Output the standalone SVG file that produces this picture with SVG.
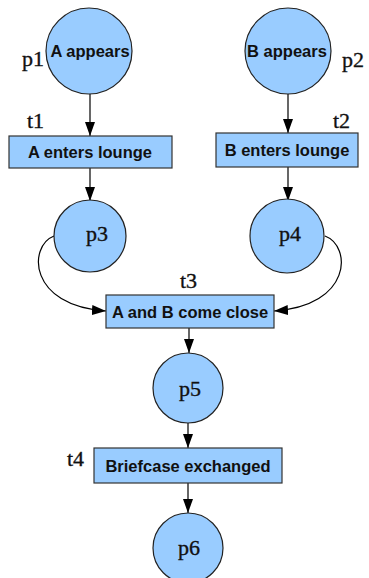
<svg xmlns="http://www.w3.org/2000/svg" width="369" height="578" viewBox="0 0 369 578">
  <style>
    .place { fill: #99ccff; stroke: #222; stroke-width: 1.2; }
    .trans { fill: #99ccff; stroke: #333; stroke-width: 1.2; }
    .lbl { font-family: "Liberation Sans", Arial, sans-serif; font-weight: bold; font-size: 16.5px; fill: #111; text-anchor: middle; }
    .tag { font-family: "Liberation Serif", "Times New Roman", serif; font-size: 22px; fill: #111; stroke: #111; stroke-width: 0.35; }
    .arc { fill: none; stroke: #000; stroke-width: 1.2; }
  </style>
  <defs>
    <marker id="head" markerUnits="userSpaceOnUse" markerWidth="14" markerHeight="10" refX="14" refY="5" orient="auto">
      <path d="M0,0 L14,5 L0,10 z" fill="#000"/>
    </marker>
  </defs>

  <!-- arcs -->
  <g id="connectors">
    <line class="arc" x1="90" y1="94" x2="90" y2="136" marker-end="url(#head)"/>
    <line class="arc" x1="90" y1="168" x2="90" y2="201" marker-end="url(#head)"/>
    <line class="arc" x1="288" y1="94" x2="288" y2="133" marker-end="url(#head)"/>
    <line class="arc" x1="288" y1="167" x2="288" y2="201" marker-end="url(#head)"/>
    <path class="arc" d="M54,236 C28,246 28,306 106,311" marker-end="url(#head)"/>
    <path class="arc" d="M325,236 C352,246 352,306 274,311" marker-end="url(#head)"/>
    <line class="arc" x1="189" y1="328" x2="189" y2="353" marker-end="url(#head)"/>
    <line class="arc" x1="188" y1="423" x2="188" y2="448" marker-end="url(#head)"/>
    <line class="arc" x1="188" y1="483" x2="188" y2="513" marker-end="url(#head)"/>
  </g>

  <g id="p1">
    <circle class="place" cx="89" cy="51" r="43"/>
    <text class="lbl" x="90" y="57">A appears</text>
    <text class="tag" x="22" y="66">p1</text>
  </g>
  <g id="p2">
    <circle class="place" cx="288" cy="51" r="43"/>
    <text class="lbl" x="287" y="57">B appears</text>
    <text class="tag" x="342" y="67">p2</text>
  </g>
  <g id="t1">
    <rect class="trans" x="9" y="136" width="163" height="32"/>
    <text class="lbl" x="90" y="158">A enters lounge</text>
    <text class="tag" x="27" y="128">t1</text>
  </g>
  <g id="t2">
    <rect class="trans" x="216" y="133" width="142" height="34"/>
    <text class="lbl" x="287" y="156">B enters lounge</text>
    <text class="tag" x="333" y="128">t2</text>
  </g>
  <g id="p3">
    <circle class="place" cx="90" cy="236" r="36"/>
    <text class="tag" x="97" y="241" text-anchor="middle">p3</text>
  </g>
  <g id="p4">
    <circle class="place" cx="287" cy="236" r="37"/>
    <text class="tag" x="290" y="241" text-anchor="middle">p4</text>
  </g>
  <g id="t3">
    <rect class="trans" x="106" y="295" width="168" height="33"/>
    <text class="lbl" x="190" y="318">A and B come close</text>
    <text class="tag" x="180" y="288">t3</text>
  </g>
  <g id="p5">
    <circle class="place" cx="188" cy="388" r="35"/>
    <text class="tag" x="190" y="396" text-anchor="middle">p5</text>
  </g>
  <g id="t4">
    <rect class="trans" x="94" y="448" width="188" height="35"/>
    <text class="lbl" x="188" y="472">Briefcase exchanged</text>
    <text class="tag" x="67" y="466">t4</text>
  </g>
  <g id="p6">
    <circle class="place" cx="188" cy="548" r="35"/>
    <text class="tag" x="189" y="555" text-anchor="middle">p6</text>
  </g>
</svg>
